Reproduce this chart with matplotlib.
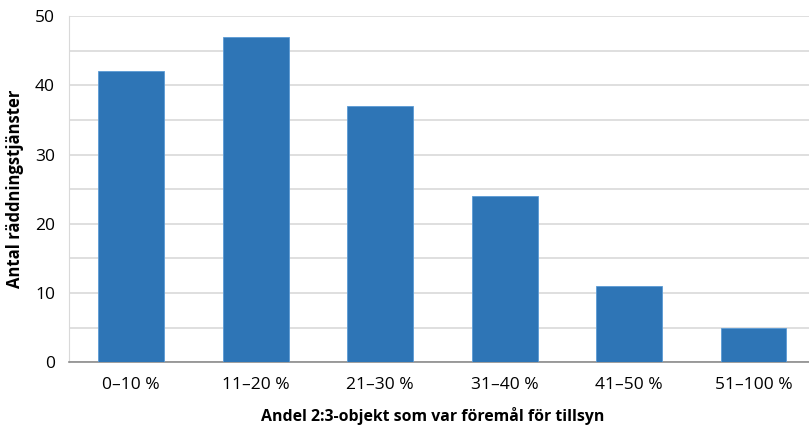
import matplotlib
matplotlib.use("Agg")
import matplotlib.pyplot as plt

plt.rcParams['font.family'] = ['Open Sans', 'DejaVu Sans']

categories = ["0–10 %", "11–20 %", "21–30 %", "31–40 %", "41–50 %", "51–100 %"]
counts = [42, 47, 37, 24, 11, 5]

fig = plt.figure(figsize=(8.09, 4.25), dpi=100)
ax = fig.add_axes([0.0853, 0.148, 0.923, 0.8141])

x = range(len(categories))
ax.bar(x, counts, width=0.53, color="#2E75B6", edgecolor="#5B9BD5", linewidth=0.6, zorder=3)

ax.set_xlim(-0.5, len(categories) - 0.5)
ax.set_ylim(0, 50)
ax.set_yticks(range(0, 51, 10))
ax.set_yticks(range(5, 50, 10), minor=True)
ax.set_xticks(list(x))
ax.set_xticklabels(categories)
ax.tick_params(axis="both", which="both", length=0, labelsize=12.5, colors="#000000")
ax.tick_params(axis="x", pad=11)
ax.tick_params(axis="y", pad=10)

ax.grid(axis="y", which="both", color="#D9D9D9", linewidth=1.2, zorder=0)
for side in ["top", "right"]:
    ax.spines[side].set_visible(False)
ax.spines["left"].set_color("#D9D9D9")
ax.spines["bottom"].set_color("#8C8C8C")
ax.spines["bottom"].set_linewidth(1.2)

ax.set_xlabel("Andel 2:3-objekt som var föremål för tillsyn", fontsize=11.4, fontweight="bold")
ax.xaxis.set_label_coords(0.487, -0.131, transform=ax.transAxes)
ax.set_ylabel("Antal räddningstjänster", fontsize=12, fontweight="bold", labelpad=8)

fig.savefig("out.png", dpi=100)
